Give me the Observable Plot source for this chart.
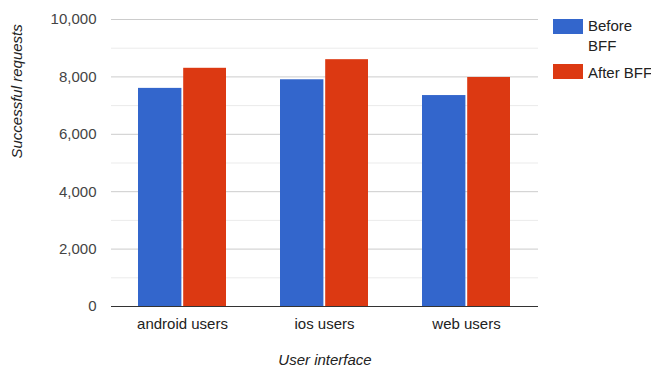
<!DOCTYPE html>
<html>
<head>
<meta charset="utf-8">
<script src="https://cdn.jsdelivr.net/npm/d3@7"></script>
<script src="https://cdn.jsdelivr.net/npm/@observablehq/plot@0.6"></script>
<style>
  html, body { margin: 0; padding: 0; background: #fff; overflow: hidden; }
  #wrap { position: relative; width: 651px; height: 372px; font-family: Arial, "Liberation Sans", sans-serif; }
  .sw { position: absolute; width: 30px; height: 15px; box-sizing: border-box; }
  .lt { position: absolute; font-size: 15px; line-height: 20px; color: #222; width: 66px; }
</style>
</head>
<body>
<div id="wrap"></div>
<script>
const categories = ["android users", "ios users", "web users"];
const seriesNames = ["Before BFF", "After BFF"];
const beforeValues = [7600, 7900, 7350];
const afterValues = [8300, 8600, 7980];
const majorTicks = [0, 2000, 4000, 6000, 8000, 10000];
const minorTicks = [1000, 3000, 5000, 7000, 9000];
const colors = ["#3366cc", "#dc3912"];
const xTitle = "User interface";
const yTitle = "Successful requests";

const data = categories.map((c, i) => ({category: c, before: beforeValues[i], after: afterValues[i]}));

const chart = Plot.plot({
  width: 651,
  height: 372,
  marginLeft: 111,
  marginRight: 113,
  marginTop: 19,
  marginBottom: 66,
  style: {fontFamily: "Arial, 'Liberation Sans', sans-serif", fontSize: "15px", color: "#444", background: "#fff"},
  x: {domain: categories, paddingInner: 0.38, paddingOuter: 0.19, label: null},
  y: {domain: [0, 10000], label: null},
  marks: [
    Plot.ruleY(minorTicks, {stroke: "#ebebeb"}),
    Plot.ruleY(majorTicks.filter(d => d > 0), {stroke: "#cccccc"}),
    Plot.barY(data, {x: "category", y: "before", fill: colors[0], insetRight: 44.6}),
    Plot.barY(data, {x: "category", y: "after", fill: colors[1], insetLeft: 45.2}),
    Plot.ruleY([0], {stroke: "#333", strokeWidth: 1.2}),
    Plot.axisY({ticks: majorTicks, tickFormat: d3.format(","), tickSize: 0, tickPadding: 15, label: null, fill: "#444", fontSize: 15}),
    Plot.axisX({tickSize: 0, tickPadding: 12, label: null, fill: "#222", fontSize: 15}),
    Plot.text([xTitle], {frameAnchor: "bottom", dy: 58.5, fontStyle: "italic", fill: "#222", fontSize: 15}),
    Plot.text([yTitle], {frameAnchor: "left", dx: -94, dy: -4.5, rotate: -90, fontStyle: "italic", fill: "#222", fontSize: 15})
  ]
});

const wrap = document.getElementById("wrap");
wrap.appendChild(chart);

const legendTops = [19, 64];
const textTops = [16.2, 62.5];
seriesNames.forEach((name, i) => {
  const sw = document.createElement("div");
  sw.className = "sw";
  sw.style.left = "553px";
  sw.style.top = legendTops[i] + "px";
  sw.style.background = colors[i];
  wrap.appendChild(sw);
  const t = document.createElement("div");
  t.className = "lt";
  t.style.left = "588px";
  t.style.top = textTops[i] + "px";
  t.textContent = name;
  wrap.appendChild(t);
});
</script>
</body>
</html>
